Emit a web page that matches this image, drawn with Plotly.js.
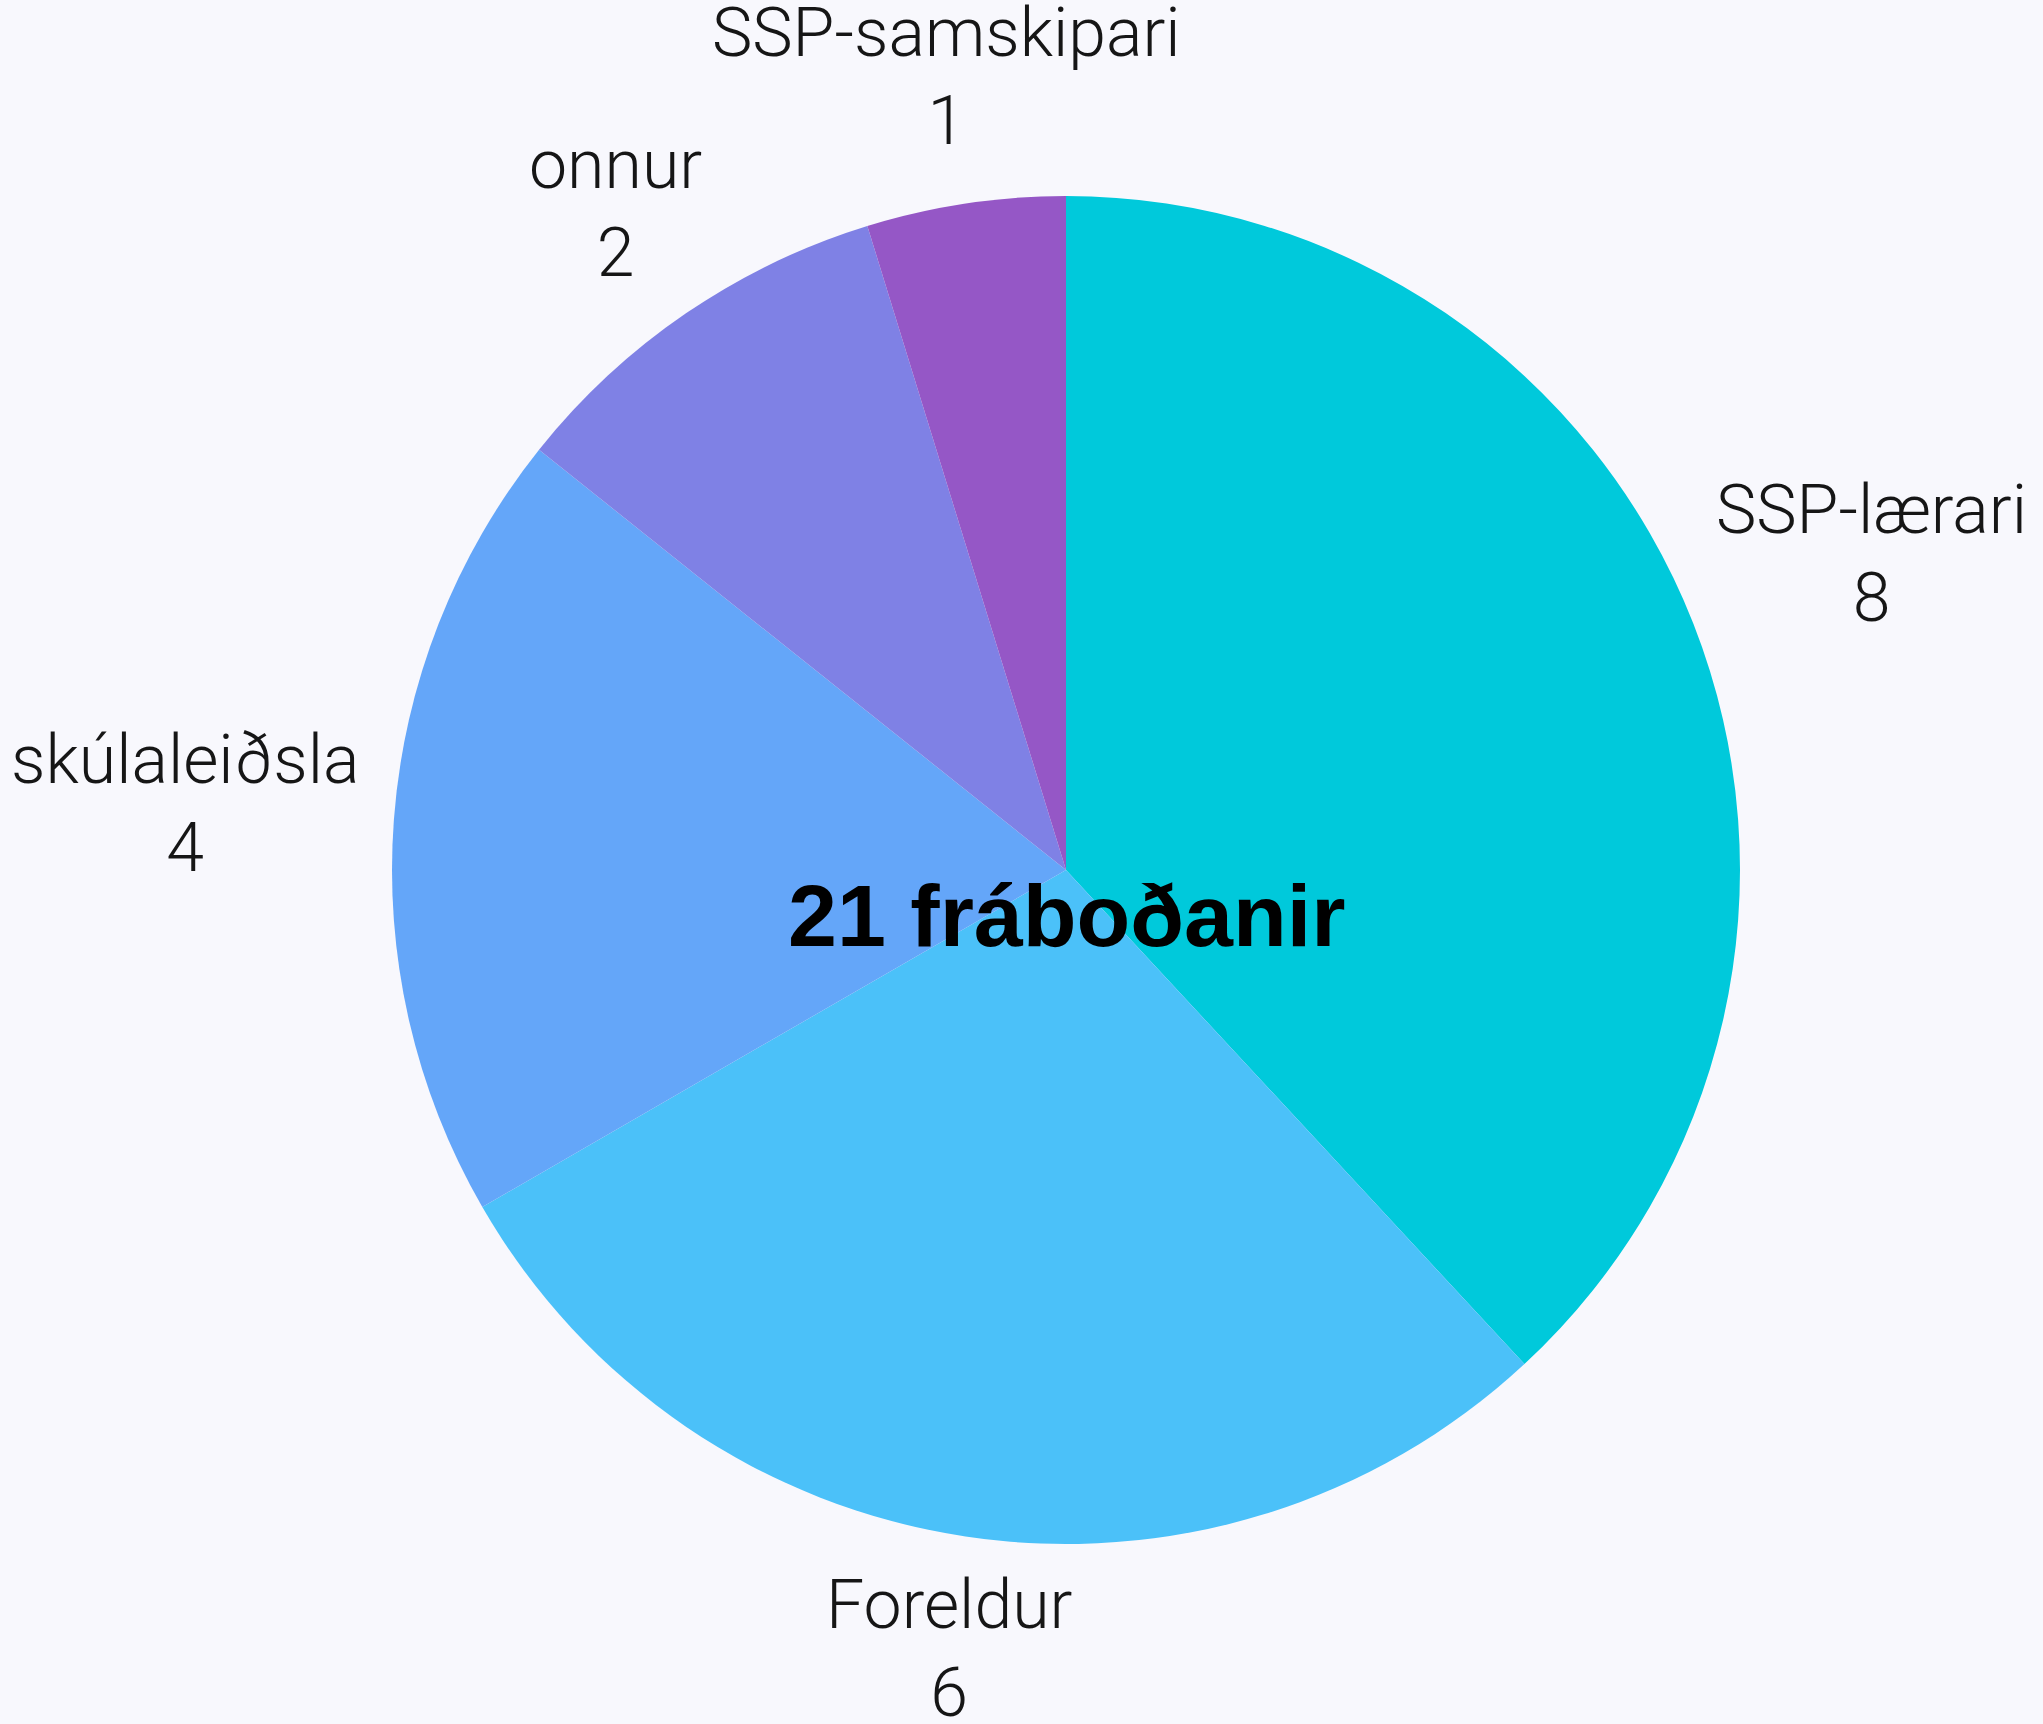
<!DOCTYPE html>
<html>
<head>
<meta charset="utf-8">
<script src="https://cdn.plot.ly/plotly-3.0.1.min.js"></script>
<style>
html,body{margin:0;padding:0;background:#F8F8FD;}
#chart{width:2043px;height:1724px;}
</style>
</head>
<body>
<div id="chart"></div>
<script>
const labels = ["SSP-lærari", "Foreldur", "skúlaleiðsla", "onnur", "SSP-samskipari"];
const values = [8, 6, 4, 2, 1];
const colors = ["#00C9DB", "#4BC1F9", "#64A6F9", "#7F81E5", "#9557C6"];
const centerText = "21 fráboðanir";

const W = 2043, H = 1724;
const margin = {l: 89, r: 0, t: 196, b: 180};
const plotW = W - margin.l - margin.r;
const plotH = H - margin.t - margin.b;
const R = Math.min(plotW, plotH) / 2;
const cx = margin.l + plotW / 2;
const cy = margin.t + plotH / 2;

const labelSize = 68;
const labelFont = {family: "Roboto, 'Liberation Sans', sans-serif", size: labelSize, color: "#161616", weight: 300};

// Outside labels placed along each slice's mid-angle (clockwise from 12 o'clock)
const total = values.reduce((a, b) => a + b, 0);
let cum = 0;
const annotations = [];
labels.forEach((lab, i) => {
  const mid = (cum + values[i] / 2) / total * 2 * Math.PI;
  cum += values[i];
  const s = Math.sin(mid), c = Math.cos(mid);
  const hw = lab.length * labelSize * 0.23;   // approx half text width
  const hh = 80;                               // approx half block height
  const dist = R + 16 + hw * Math.abs(s) + hh * Math.abs(c);
  const px = cx + dist * s;
  const py = cy - dist * c;
  annotations.push({
    text: lab + "<br>" + values[i],
    x: (px - margin.l) / plotW,
    y: (H - margin.b - py) / plotH,
    xref: "paper", yref: "paper",
    xanchor: "center", yanchor: "middle",
    align: "center",
    showarrow: false,
    font: labelFont
  });
});

annotations.push({
  text: "<b>" + centerText + "</b>",
  x: 0.5, y: 0.466, xref: "paper", yref: "paper",
  xanchor: "center", yanchor: "middle",
  showarrow: false,
  font: {family: "'Liberation Sans', Arial, sans-serif", size: 88, color: "#000000"}
});

const trace = {
  type: "pie",
  labels: labels,
  values: values,
  sort: false,
  direction: "clockwise",
  rotation: 0,
  marker: {colors: colors, line: {width: 0}},
  textinfo: "none",
  automargin: false,
  hoverinfo: "none",
  showlegend: false
};

const layout = {
  width: W,
  height: H,
  paper_bgcolor: "#F8F8FD",
  plot_bgcolor: "#F8F8FD",
  margin: margin,
  showlegend: false,
  annotations: annotations
};

Plotly.newPlot("chart", [trace], layout, {displayModeBar: false, staticPlot: true});
</script>
</body>
</html>
